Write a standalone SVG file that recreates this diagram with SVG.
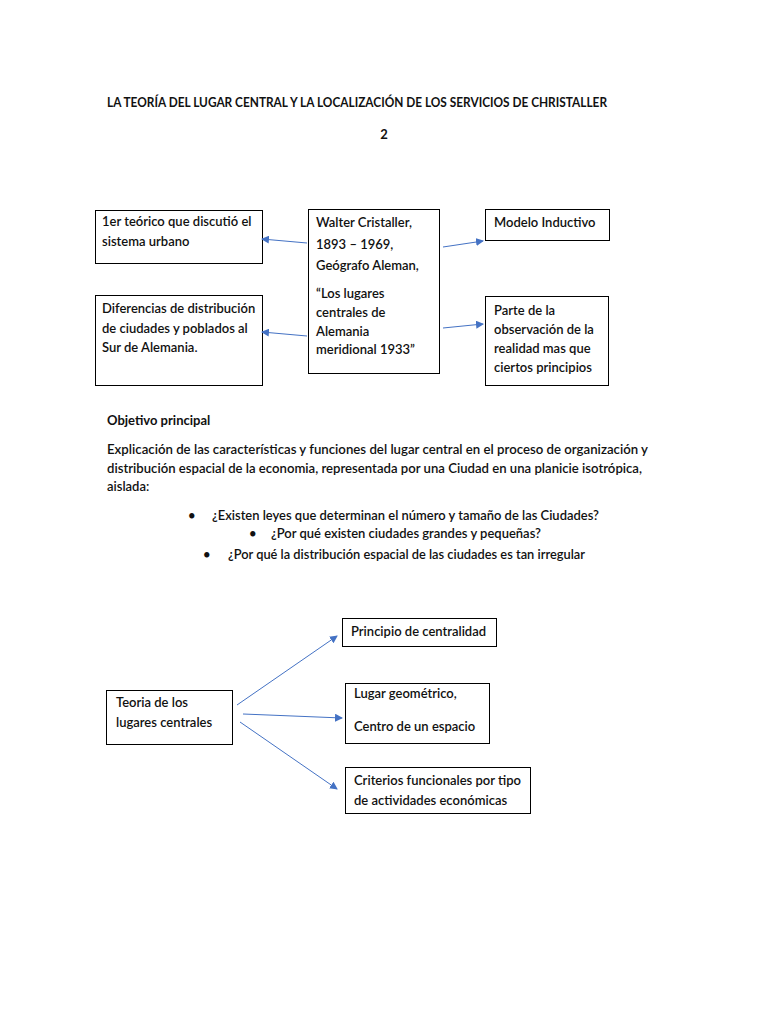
<svg xmlns="http://www.w3.org/2000/svg" width="768" height="1024" viewBox="0 0 768 1024">
<defs>
<style>
text{font-family:"Lato","Open Sans","Liberation Sans",sans-serif;font-size:13px;fill:#111;font-weight:600}
.b{font-weight:700}
rect{fill:#fff;stroke:#000;stroke-width:1}
.c line{stroke:#4472c4;stroke-width:1}
</style>
<marker id="ah" markerWidth="8" markerHeight="8" refX="7" refY="4" orient="auto" markerUnits="userSpaceOnUse">
<path d="M0,0 L8,4 L0,8 Z" fill="#4472c4"/>
</marker>
</defs>
<rect x="0" y="0" width="768" height="1024" style="fill:#fff;stroke:none"/>
<text class="b" x="357" y="107" text-anchor="middle" textLength="500" lengthAdjust="spacingAndGlyphs">LA TEORÍA DEL LUGAR CENTRAL Y LA LOCALIZACIÓN DE LOS SERVICIOS DE CHRISTALLER</text>
<text class="b" x="384" y="139" text-anchor="middle">2</text>

<g id="n1"><rect x="95.5" y="210.5" width="167" height="53"/>
<text x="102" y="226">1er teórico que discutió el</text>
<text x="102" y="246">sistema urbano</text></g>

<g id="n2"><rect x="308.5" y="209.5" width="131" height="164"/>
<text x="316" y="227">Walter Cristaller,</text>
<text x="316" y="249">1893 – 1969,</text>
<text x="316" y="270">Geógrafo Aleman,</text>
<text x="316" y="298">“Los lugares</text>
<text x="316" y="317">centrales de</text>
<text x="316" y="336">Alemania</text>
<text x="316" y="354">meridional 1933”</text></g>

<g id="n3"><rect x="485.5" y="209.5" width="124" height="31"/>
<text x="494" y="227">Modelo Inductivo</text></g>

<g id="n4"><rect x="95.5" y="295.5" width="167" height="90"/>
<text x="102" y="313">Diferencias de distribución</text>
<text x="102" y="333">de ciudades y poblados al</text>
<text x="102" y="352">Sur de Alemania.</text></g>

<g id="n5"><rect x="485.5" y="296.5" width="123" height="89"/>
<text x="494" y="315">Parte de la</text>
<text x="494" y="334">observación de la</text>
<text x="494" y="353">realidad mas que</text>
<text x="494" y="372">ciertos principios</text></g>

<g class="c" id="connectors1">
<line x1="307" y1="243" x2="262" y2="239" marker-end="url(#ah)"/>
<line x1="307" y1="336" x2="262" y2="332" marker-end="url(#ah)"/>
<line x1="443" y1="247" x2="483" y2="241" marker-end="url(#ah)"/>
<line x1="443" y1="328" x2="483" y2="324" marker-end="url(#ah)"/>
</g>

<text class="b" x="107" y="425">Objetivo principal</text>
<text x="107" y="454" textLength="541" lengthAdjust="spacingAndGlyphs">Explicación de las características y funciones del lugar central en el proceso de organización y</text>
<text x="107" y="473" textLength="535" lengthAdjust="spacingAndGlyphs">distribución espacial de la economia, representada por una Ciudad en una planicie isotrópica,</text>
<text x="107" y="491">aislada:</text>

<text x="188" y="520">•</text>
<text x="212" y="520" textLength="387" lengthAdjust="spacingAndGlyphs">¿Existen leyes que determinan el número y tamaño de las Ciudades?</text>
<text x="249" y="538">•</text>
<text x="271" y="538" textLength="270" lengthAdjust="spacingAndGlyphs">¿Por qué existen ciudades grandes y pequeñas?</text>
<text x="203" y="559">•</text>
<text x="228" y="559" textLength="357" lengthAdjust="spacingAndGlyphs">¿Por qué la distribución espacial de las ciudades es tan irregular</text>

<g id="n6"><rect x="106.5" y="690.5" width="126" height="54"/>
<text x="116" y="707">Teoria de los</text>
<text x="116" y="727">lugares centrales</text></g>

<g id="n7"><rect x="342.5" y="618.5" width="154" height="28"/>
<text x="351" y="636">Principio de centralidad</text></g>

<g id="n8"><rect x="345.5" y="683.5" width="144" height="60"/>
<text x="354" y="698">Lugar geométrico,</text>
<text x="354" y="731">Centro de un espacio</text></g>

<g id="n9"><rect x="345.5" y="767.5" width="185" height="46"/>
<text x="354" y="785">Criterios funcionales por tipo</text>
<text x="354" y="805">de actividades económicas</text></g>

<g class="c" id="connectors2">
<line x1="237" y1="705" x2="337" y2="636" marker-end="url(#ah)"/>
<line x1="243" y1="714" x2="342" y2="718" marker-end="url(#ah)"/>
<line x1="240" y1="722" x2="337" y2="789" marker-end="url(#ah)"/>
</g>
</svg>
